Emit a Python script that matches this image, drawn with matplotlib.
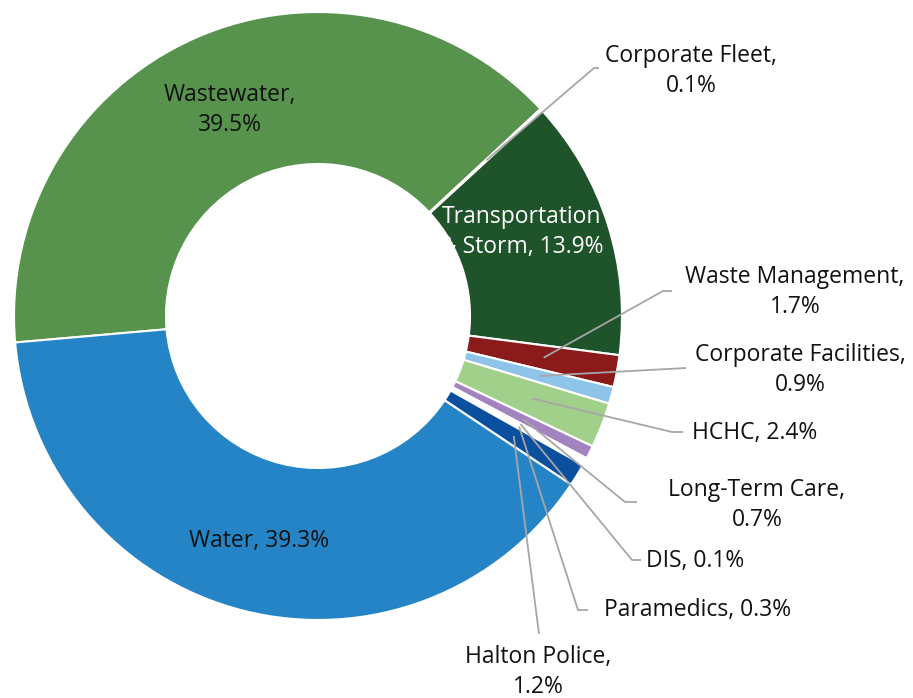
import numpy as np
import matplotlib.pyplot as plt

plt.rcParams['font.family'] = ['Open Sans', 'DejaVu Sans']

# budget share by program (%)
programs = ["Wastewater", "Corporate Fleet", "Transportation\n& Storm", "Waste Management",
            "Corporate Facilities", "HCHC", "Long-Term Care", "DIS", "Paramedics",
            "Halton Police", "Water"]
shares = [39.5, 0.1, 13.9, 1.7, 0.9, 2.4, 0.7, 0.1, 0.3, 1.2, 39.3]
colors = ["#57934d", "#ffffff", "#1f532a", "#8b1a1b", "#8fc4ea", "#a1d08b",
          "#a383c0", "#ffd966", "#ffffff", "#0b4f9f", "#2584c6"]
# put the value on a new line for these
wrap = [True, True, False, True, True, False, True, False, False, True, False]

W, H = 913, 698
cx, cy, R = 318, H - 316, 304

fig = plt.figure(figsize=(W / 100, H / 100), dpi=100)
ax = fig.add_axes([0, 0, 1, 1])

wedges, _ = ax.pie(shares, colors=colors, startangle=185, counterclock=False,
                   center=(cx, cy), radius=R,
                   wedgeprops=dict(width=R * 0.5, edgecolor='white', linewidth=1.5))

# pie() resets the limits, so set them afterwards (pixel units)
ax.set_xlim(0, W)
ax.set_ylim(0, H)
ax.set_aspect('equal')
ax.axis('off')

labels = [f"{p},{chr(10) if w else ' '}{s}%" for p, s, w in zip(programs, shares, wrap)]

# label placement (x, y from top, ha) and leader elbow points (from top)
layout = {
    "Wastewater": ((230, 110, 'center'), None),
    "Transportation\n& Storm": ((522, 232, 'center'), None),
    "Water": ((259, 541, 'center'), None),
    "Corporate Fleet": ((691, 71, 'center'), [(594, 68), (599, 68)]),
    "Waste Management": ((795, 292, 'center'), [(663, 291), (672, 291)]),
    "Corporate Facilities": ((800, 370, 'center'), [(686, 368)]),
    "HCHC": ((692, 433, 'left'), [(672, 432), (683, 432)]),
    "Long-Term Care": ((757, 505, 'center'), [(625, 502), (637, 502)]),
    "DIS": ((646, 561, 'left'), [(632, 560), (641, 560)]),
    "Paramedics": ((604, 610, 'left'), [(578, 610), (588, 610)]),
    "Halton Police": ((538, 672, 'center'), [(539, 634)]),
}

for wedge, prog, lab in zip(wedges, programs, labels):
    (tx, ty, ha), elbow = layout[prog]
    color = 'white' if prog.startswith("Transportation") else '#111111'
    ax.text(tx, H - ty, lab, ha=ha, va='center', ma='center', fontsize=16.5,
            color=color, linespacing=1.36)
    if elbow:
        mid = np.deg2rad((wedge.theta1 + wedge.theta2) / 2)
        xs = [cx + 0.755 * R * np.cos(mid)] + [p[0] for p in elbow]
        ys = [cy + 0.755 * R * np.sin(mid)] + [H - p[1] for p in elbow]
        ax.plot(xs, ys, color='#a6a6a6', lw=1.3, solid_capstyle='butt')

fig.savefig("out.png", dpi=100)
